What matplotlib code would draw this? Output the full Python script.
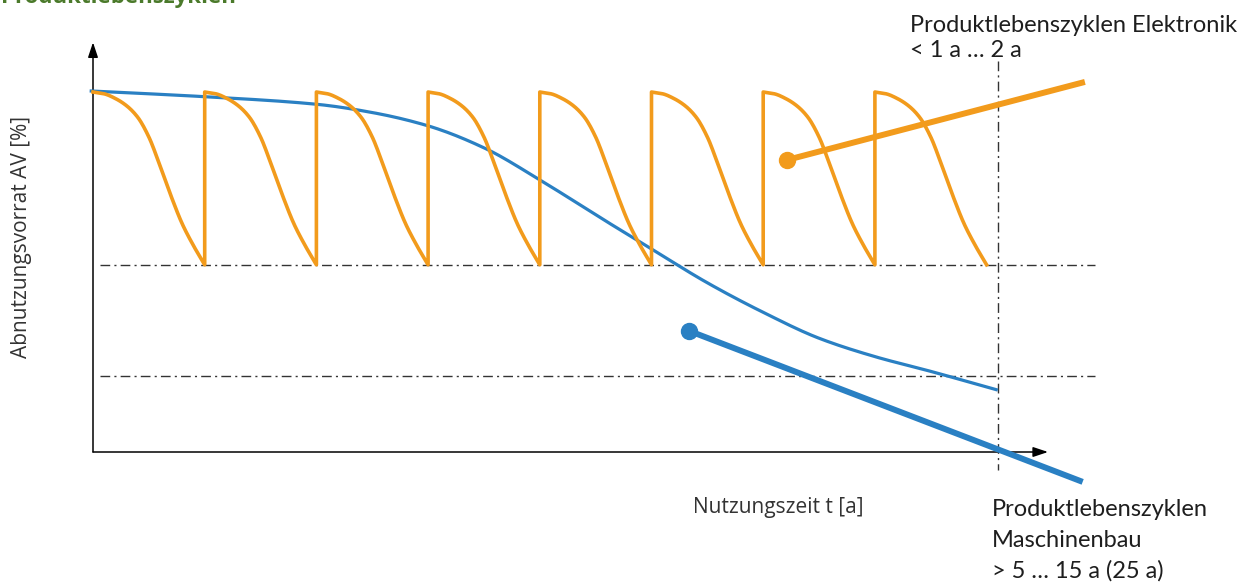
import numpy as np
import matplotlib
matplotlib.use("Agg")
import matplotlib.pyplot as plt

# Electronics: short product generations, each wearing down and then replaced
n_generations = 8
generation_length = 1.0
wear_phase = [0.0, 0.1, 0.2, 0.3, 0.4, 0.5, 0.6, 0.7, 0.8, 0.9, 1.0]
wear_reserve = [100.0, 99.5, 98.2, 96.2, 93.0, 87.5, 79.5, 71.0, 63.3, 57.3, 52.0]

# Mechanical engineering: one long product life
machine_t = [-0.03, 1.0, 2.0, 2.5, 3.0, 3.5, 4.0, 4.5, 5.0, 5.5, 6.0, 6.5, 7.0, 7.5, 8.1]
machine_av = [100.3, 98.7, 96.6, 94.3, 90.6, 84.5, 75.6, 65.9, 56.4, 47.0, 38.8, 31.6, 26.5, 22.4, 17.2]

# Wear limits and end of use
limit_electronics = 52.0
limit_machine = 21.0
end_of_use = 8.1

# Label leader lines (start at the dot)
elec_leader_t = [6.21, 8.88]
elec_leader_av = [81.1, 102.8]
mach_leader_t = [5.34, 8.86]
mach_leader_av = [33.6, -8.3]

ORANGE = "#f29b1c"
BLUE = "#2a80c3"
INK = "#1e1e1e"
LABEL_FONT = ["Lato", "DejaVu Sans"]


def pchip_curve(x, y, n=400):
    """Shape-preserving cubic through the given points (Fritsch-Carlson)."""
    x = np.asarray(x, float)
    y = np.asarray(y, float)
    h = np.diff(x)
    d = np.diff(y) / h
    m = np.zeros_like(y)
    for k in range(1, len(x) - 1):
        if d[k - 1] * d[k] > 0:
            w1 = 2 * h[k] + h[k - 1]
            w2 = h[k] + 2 * h[k - 1]
            m[k] = (w1 + w2) / (w1 / d[k - 1] + w2 / d[k])
    m[0] = d[0]
    m[-1] = d[-1]
    xs = np.linspace(x[0], x[-1], n)
    idx = np.clip(np.searchsorted(x, xs) - 1, 0, len(x) - 2)
    t = (xs - x[idx]) / h[idx]
    h00 = 2 * t ** 3 - 3 * t ** 2 + 1
    h10 = t ** 3 - 2 * t ** 2 + t
    h01 = -2 * t ** 3 + 3 * t ** 2
    h11 = t ** 3 - t ** 2
    ys = (h00 * y[idx] + h10 * h[idx] * m[idx] + h01 * y[idx + 1]
          + h11 * h[idx] * m[idx + 1])
    return xs, ys


fig = plt.figure(figsize=(12.38, 5.83), dpi=100)
ax = fig.add_axes([0, 0, 1, 1])
ax.set_xlim(-0.8326, 10.2507)
ax.set_ylim(-36.39, 125.56)
ax.axis("off")

# Coordinate axes with arrow heads
arrow = dict(arrowstyle="-|>,head_length=0.9,head_width=0.3", color="black", lw=1.1,
             shrinkA=0, shrinkB=0)
ax.annotate("", xy=(0, 113.8), xytext=(0, 0), arrowprops=arrow)
ax.annotate("", xy=(8.55, 0), xytext=(0, 0), arrowprops=arrow)

# Wear limits and end of use
dashdot = (0, (7, 3, 1.5, 3))
ax.plot([0.06, 8.97], [limit_electronics] * 2, color="#333333", lw=1.0, ls=dashdot)
ax.plot([0.06, 8.97], [limit_machine] * 2, color="#333333", lw=1.0, ls=dashdot)
ax.plot([end_of_use] * 2, [108.5, -5.0], color="#333333", lw=1.0, ls=dashdot)

# Machine wear curve
mx, my = pchip_curve(machine_t, machine_av)
ax.plot(mx, my, color=BLUE, lw=2.3, solid_capstyle="butt", zorder=3)

# Electronics sawtooth: one wear profile per generation
px, py = pchip_curve(wear_phase, wear_reserve, n=120)
saw_t = np.concatenate([g * generation_length + px * generation_length
                        for g in range(n_generations)])
saw_av = np.concatenate([py for _ in range(n_generations)])
ax.plot(saw_t, saw_av, color=ORANGE, lw=2.6, zorder=4)

# Leader lines for the labels
ax.plot(elec_leader_t, elec_leader_av, color=ORANGE, lw=4.3, solid_capstyle="butt", zorder=5)
ax.plot(elec_leader_t[0], elec_leader_av[0], "o", color=ORANGE, ms=11.5, zorder=5)
ax.plot(mach_leader_t, mach_leader_av, color=BLUE, lw=4.3, solid_capstyle="butt", zorder=5)
ax.plot(mach_leader_t[0], mach_leader_av[0], "o", color=BLUE, ms=11.5, zorder=5)

# Axis titles
ax.text(-0.636, 59.7, "Abnutzungsvorrat AV [%]", rotation=90, ha="center", va="center",
        fontsize=15, family="Open Sans", color="#333333")
ax.text(5.37, -16.9, "Nutzungszeit t [a]", ha="left", va="baseline",
        fontsize=15, family="Open Sans", color="#333333")

# Labels
ax.text(7.31, 116.7, "Produktlebenszyklen Elektronik", ha="left", va="baseline",
        fontsize=17, family=LABEL_FONT, color=INK)
ax.text(7.31, 109.7, "< 1 a … 2 a", ha="left", va="baseline",
        fontsize=17, family=LABEL_FONT, color=INK)
ax.text(8.05, -17.8, "Produktlebenszyklen", ha="left", va="baseline",
        fontsize=17, family=LABEL_FONT, color=INK)
ax.text(8.05, -26.3, "Maschinenbau", ha="left", va="baseline",
        fontsize=17, family=LABEL_FONT, color=INK)
ax.text(8.05, -35.0, "> 5 … 15 a (25 a)", ha="left", va="baseline",
        fontsize=17, family=LABEL_FONT, color=INK)

# Section heading at the top edge
ax.text(-0.82, 124.8, "Produktlebenszyklen", ha="left", va="baseline",
        fontsize=16, fontweight="bold", family="Open Sans", color="#4b7a2b")

fig.savefig("out.png", dpi=100)
